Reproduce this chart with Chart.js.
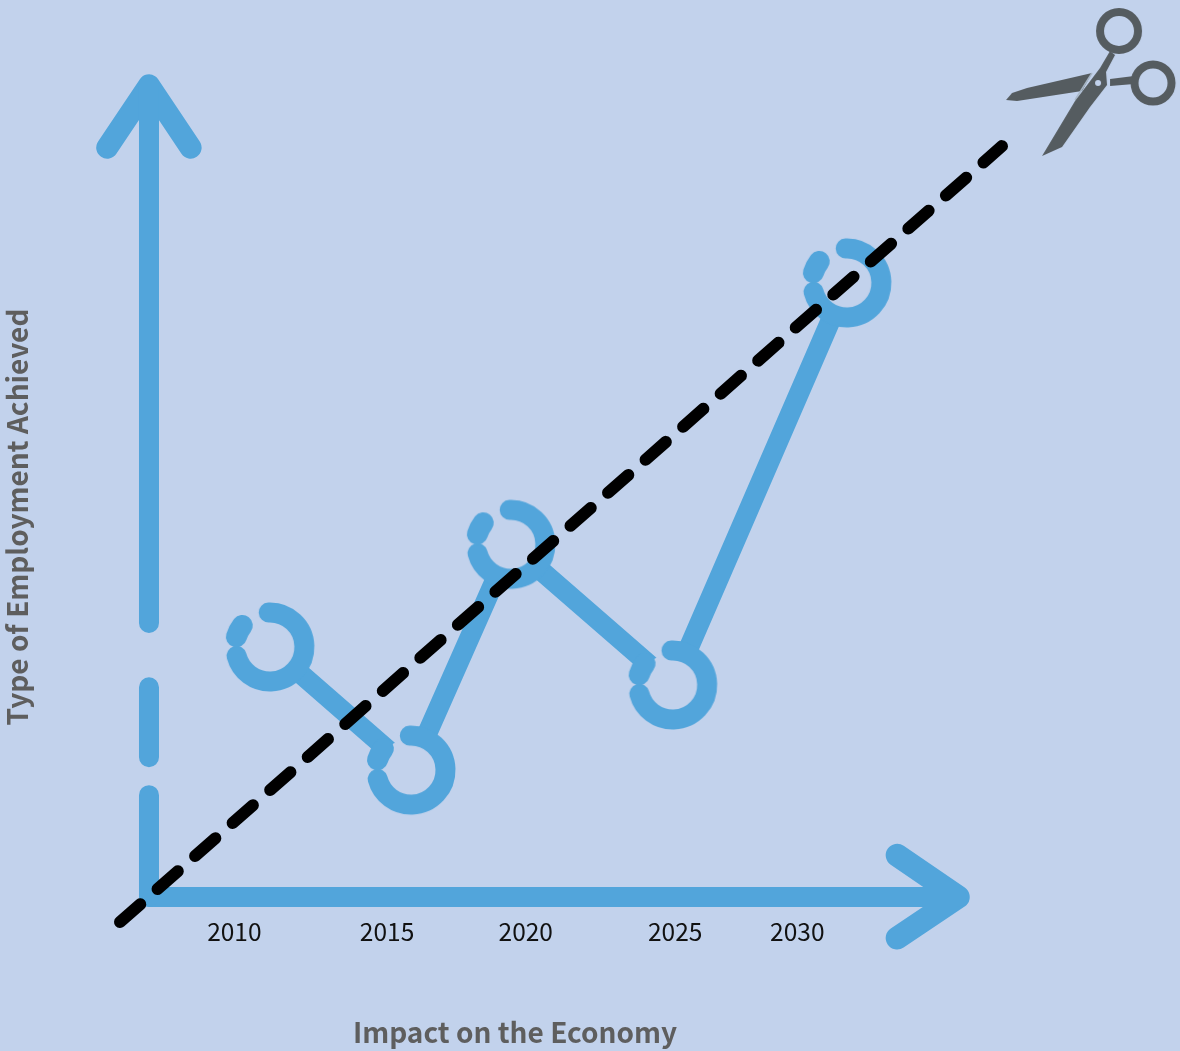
<!DOCTYPE html>
<html>
<head>
<meta charset="utf-8">
<title>Impact on the Economy</title>
<script src="https://cdn.jsdelivr.net/npm/chart.js@4"></script>
<style>
  html, body { margin: 0; padding: 0; background: #c2d2ec; }
  #wrap { width: 1180px; height: 1051px; overflow: hidden; }
</style>
</head>
<body>
<div id="wrap"><canvas id="chart" width="1180" height="1051"></canvas></div>
<script>
// chart data (both axes are unitless)
const tickLabels = ['2010', '2015', '2020', '2025', '2030'];
const tickValues = [21.0, 39.5, 56.3, 74.4, 89.2];
const seriesX = [25.3, 42.4, 54.5, 74.1, 95.2];
const seriesY = [32.9, 16.7, 46.4, 27.9, 80.8];

// diagonal cut line
const cutX = [7.15, 114.0];
const cutY = [-3.3, 98.8];

// drawn axes: null y leaves a gap in the vertical one
const yAxisX = [10.66, 10.66, null, 10.66, 10.66, null, 10.66, 10.66];
const yAxisY = [106.8, 36.05, null, 27.6, 18.4, null, 13.4, 0];
const yHeadX = [5.6, 10.66, 15.7];
const yHeadY = [98.6, 106.8, 98.6];
const xAxisX = [10.66, 108.5];
const xAxisY = [0, 0];
const xHeadX = [101.3, 108.7, 101.3];
const xHeadY = [5.5, 0, -5.4];

const scissorsAt = [124.66, 107.5];

const BG = '#c2d2ec';
const BLUE = '#52a5db';
const GREY = '#555c60';
const TITLE_FONT = { family: '"Noto Sans CJK JP"', size: 28, weight: 'bold' };

const zip = (xs, ys) => xs.map((x, i) => ({ x: x, y: ys[i] }));
const rad = d => d * Math.PI / 180;

// open ring marker, the disc hides the line inside the ring
function makeRing() {
  const c = document.createElement('canvas');
  c.width = c.height = 110;
  const g = c.getContext('2d');
  g.translate(55, 55);
  g.fillStyle = BG;
  g.beginPath();
  g.arc(0, 0, 32, 0, Math.PI * 2);
  g.fill();
  g.strokeStyle = BLUE;
  g.lineWidth = 20;
  g.lineCap = 'round';
  g.beginPath();
  g.arc(0, 0, 34.5, rad(-92), rad(165));
  g.stroke();
  g.lineWidth = 21;
  g.beginPath();
  g.arc(0, 0, 35, rad(-163), rad(-142));
  g.stroke();
  return c;
}

function poly(g, pts) {
  g.beginPath();
  pts.forEach((p, i) => i ? g.lineTo(p[0], p[1]) : g.moveTo(p[0], p[1]));
  g.closePath();
  g.fill();
}

// scissors icon, coordinates are local to the icon box (180 x 160)
function makeScissors() {
  const c = document.createElement('canvas');
  c.width = 180;
  c.height = 160;
  const g = c.getContext('2d');
  g.fillStyle = GREY;
  g.strokeStyle = GREY;
  g.lineWidth = 8;
  g.beginPath();
  g.arc(119, 31, 19, 0, Math.PI * 2);
  g.stroke();
  g.beginPath();
  g.arc(153, 83, 18.5, 0, Math.PI * 2);
  g.stroke();
  poly(g, [[6, 100], [12, 93], [27, 88], [92, 73], [82, 91], [17, 101]]);
  poly(g, [[110, 79], [134, 76], [134, 84], [110, 86]]);
  // light edge between the two blades
  g.strokeStyle = '#a9b8c8';
  g.lineWidth = 1.5;
  g.beginPath();
  g.moveTo(92, 73);
  g.lineTo(75, 100);
  g.stroke();
  poly(g, [[110, 51], [115, 55], [106, 72], [107, 85], [90, 107], [62, 147], [42, 156], [75, 101], [100, 68]]);
  g.fillStyle = BG;
  g.beginPath();
  g.arc(98, 83, 3, 0, Math.PI * 2);
  g.fill();
  return c;
}

const ringMark = makeRing();
const scissorsMark = makeScissors();

const scissorsPlugin = {
  id: 'scissors',
  afterDatasetsDraw(chart) {
    const px = chart.scales.x.getPixelForValue(scissorsAt[0]);
    const py = chart.scales.y.getPixelForValue(scissorsAt[1]);
    chart.ctx.drawImage(scissorsMark, px - 90, py - 80);
  }
};

function axisLine(xs, ys, width) {
  return {
    data: zip(xs, ys),
    showLine: true,
    borderColor: BLUE,
    borderWidth: width,
    borderCapStyle: 'round',
    borderJoinStyle: 'round',
    pointRadius: 0,
    clip: false,
    order: 3
  };
}

new Chart(document.getElementById('chart'), {
  type: 'scatter',
  data: {
    datasets: [
      axisLine(yAxisX, yAxisY, 20),
      axisLine(yHeadX, yHeadY, 22),
      axisLine(xAxisX, xAxisY, 20),
      axisLine(xHeadX, xHeadY, 23),
      {
        data: zip(seriesX, seriesY),
        showLine: true,
        borderColor: BLUE,
        borderWidth: 20,
        borderJoinStyle: 'round',
        pointStyle: ringMark,
        pointRadius: 30,
        clip: false,
        order: 2
      },
      {
        data: zip(cutX, cutY),
        showLine: true,
        borderColor: '#000000',
        borderWidth: 12,
        borderDash: [27, 23],
        borderCapStyle: 'round',
        pointRadius: 0,
        clip: false,
        order: 1
      }
    ]
  },
  options: {
    responsive: false,
    animation: false,
    layout: { padding: { left: 0, top: 137, right: 211, bottom: 0 } },
    plugins: { legend: { display: false }, tooltip: { enabled: false } },
    scales: {
      x: {
        type: 'linear',
        min: 0,
        max: 110,
        grid: { display: false, drawTicks: false },
        border: { display: false },
        afterBuildTicks(scale) {
          scale.ticks = tickValues.map(v => ({ value: v }));
        },
        afterFit(scale) { scale.height = 154; },
        ticks: {
          autoSkip: false,
          maxRotation: 0,
          padding: 20,
          color: '#111111',
          font: { family: '"Noto Sans CJK JP"', size: 24.5 },
          callback: (value, i) => tickLabels[i]
        },
        title: {
          display: true,
          text: 'Impact on the Economy',
          color: '#5e5e5e',
          padding: { top: 0, bottom: 2 },
          font: TITLE_FONT
        }
      },
      y: {
        type: 'linear',
        min: 0,
        max: 100,
        grid: { display: false, drawTicks: false },
        border: { display: false },
        ticks: { display: false },
        afterFit(scale) { scale.width = 61; },
        title: {
          display: true,
          text: 'Type of Employment Achieved',
          color: '#5e5e5e',
          padding: { top: 1, bottom: 0 },
          font: TITLE_FONT
        }
      }
    }
  },
  plugins: [scissorsPlugin]
});
</script>
</body>
</html>
